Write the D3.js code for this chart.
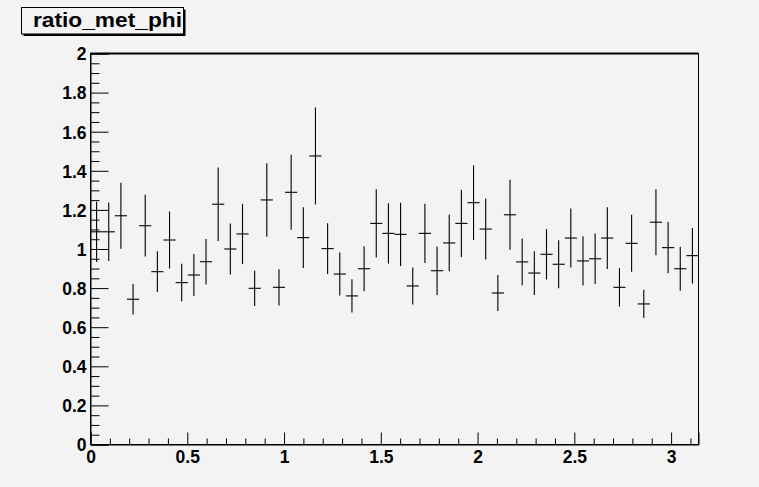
<!DOCTYPE html>
<html>
<head>
<meta charset="utf-8">
<script src="https://cdn.jsdelivr.net/npm/d3@7"></script>
<style>
html,body{margin:0;padding:0;background:#f3f3f3;}
svg{display:block;}
</style>
</head>
<body>
<svg id="chart" width="759" height="487"></svg>
<script>
// ---- data ----
const title = "ratio_met_phi";
const nBins = 50;
const xMin = 0, xMax = Math.PI;
const values = [1.088,1.088,1.170,0.743,1.119,0.884,1.046,0.828,0.867,0.935,
                1.229,1.000,1.077,0.799,1.251,0.804,1.290,1.058,1.476,1.002,
                0.872,0.760,0.899,1.131,1.080,1.075,0.811,1.080,0.889,1.031,
                1.131,1.237,1.102,0.775,1.175,0.934,0.877,0.973,0.922,1.056,
                0.939,0.950,1.056,0.804,1.029,0.719,1.137,1.007,0.899,0.966];
const errors = [0.154,0.150,0.169,0.078,0.158,0.104,0.146,0.096,0.107,0.116,
                0.188,0.130,0.154,0.090,0.188,0.093,0.192,0.155,0.248,0.130,
                0.110,0.085,0.115,0.174,0.154,0.162,0.095,0.151,0.124,0.145,
                0.172,0.191,0.156,0.092,0.179,0.120,0.112,0.129,0.123,0.151,
                0.126,0.129,0.158,0.098,0.146,0.072,0.169,0.131,0.112,0.142];
const xTickValues = [0, 0.5, 1, 1.5, 2, 2.5, 3];
const xTickLabels = ["0", "0.5", "1", "1.5", "2", "2.5", "3"];
const yTickValues = [0, 0.2, 0.4, 0.6, 0.8, 1, 1.2, 1.4, 1.6, 1.8, 2];
const yTickLabels = ["0", "0.2", "0.4", "0.6", "0.8", "1", "1.2", "1.4", "1.6", "1.8", "2"];

// ---- layout ----
const L = 90.5, R = 698.5, T = 53.5, B = 444.5;
const svg = d3.select("#chart");
svg.append("rect").attr("width",759).attr("height",487).attr("fill","#f3f3f3");

const x = d3.scaleLinear().domain([xMin, xMax]).range([L, R]);
const y = d3.scaleLinear().domain([0, 2]).range([B, T]);
const bw = (xMax - xMin) / nBins;

const fontFam = "'Liberation Sans', Arial, Helvetica, sans-serif";

// frame
svg.append("rect").attr("x",L).attr("y",T).attr("width",R-L).attr("height",B-T)
  .attr("fill","none").attr("stroke","#000").attr("stroke-width",1);
svg.append("line").attr("x1",L).attr("x2",R).attr("y1",T).attr("y2",T)
  .attr("stroke","#000").attr("stroke-width",2);

// y axis minor
const yMinor = d3.range(0, 2.0001, 0.05).filter(v => Math.abs(Math.round(v/0.2)*0.2 - v) > 1e-6);
svg.append("g").attr("transform",`translate(${L},0)`)
  .call(d3.axisLeft(y).tickValues(yMinor).tickSize(-9).tickFormat(""))
  .call(g => g.select(".domain").remove())
  .call(g => g.selectAll("line").attr("stroke","#000"));
// y axis major
const gy = svg.append("g").attr("transform",`translate(${L},0)`)
  .call(d3.axisLeft(y).tickValues(yTickValues).tickSize(-18).tickPadding(4)
        .tickFormat((d,i) => yTickLabels[i]));
gy.select(".domain").attr("stroke","#000");
gy.selectAll("line").attr("stroke","#000");
gy.selectAll("text").attr("font-family",fontFam).attr("font-weight","bold")
  .attr("font-size","17.5px").attr("fill","#000").attr("dy","0.36em");

// x axis minor
const xMinor = d3.range(0, xMax, 0.1).filter(v => Math.abs(Math.round(v/0.5)*0.5 - v) > 1e-6);
svg.append("g").attr("transform",`translate(0,${B})`)
  .call(d3.axisBottom(x).tickValues(xMinor).tickSize(-6).tickFormat(""))
  .call(g => g.select(".domain").remove())
  .call(g => g.selectAll("line").attr("stroke","#000"));
// x axis major
const gx = svg.append("g").attr("transform",`translate(0,${B})`)
  .call(d3.axisBottom(x).tickValues(xTickValues).tickSize(-12)
        .tickFormat((d,i) => xTickLabels[i]));
gx.select(".domain").attr("stroke","#000");
gx.selectAll("line").attr("stroke","#000");
gx.selectAll("text").attr("font-family",fontFam).attr("font-weight","bold")
  .attr("font-size","17.5px").attr("fill","#000").attr("y",18.5).attr("dy",0);

// data points: horizontal bin-width bar + vertical error bar
const pts = svg.append("g").attr("stroke","#000").attr("stroke-width",1.1);
values.forEach((v,i) => {
  const x0 = xMin + i*bw, x1 = x0 + bw, xc = x0 + bw/2;
  pts.append("line").attr("x1",x(x0)).attr("x2",x(x1)).attr("y1",y(v)).attr("y2",y(v));
  pts.append("line").attr("x1",x(xc)).attr("x2",x(xc))
     .attr("y1",y(v - errors[i])).attr("y2",y(v + errors[i]));
});

// title box with shadow
const tb = {x:21.5, y:7.5, w:162, h:26.5};
svg.append("rect").attr("x",tb.x+2).attr("y",tb.y+2).attr("width",tb.w).attr("height",tb.h)
  .attr("fill","#000");
svg.append("rect").attr("x",tb.x).attr("y",tb.y).attr("width",tb.w).attr("height",tb.h)
  .attr("fill","#f3f3f3").attr("stroke","#000").attr("stroke-width",1);
svg.append("text").attr("x",33).attr("y",27).attr("font-family",fontFam)
  .attr("font-weight","bold").attr("font-size","19.5px").attr("fill","#000")
  .attr("textLength",149).attr("lengthAdjust","spacingAndGlyphs").text(title);
</script>
</body>
</html>
